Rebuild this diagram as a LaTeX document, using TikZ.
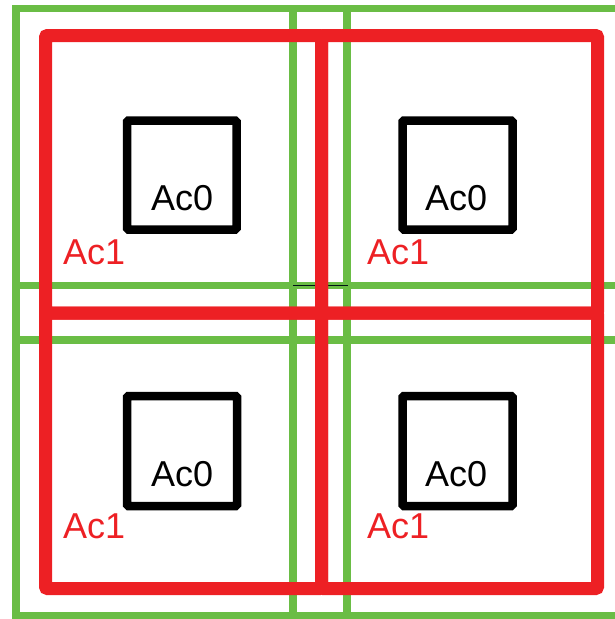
\documentclass[tikz,border=0pt]{standalone}
\usepackage{fontspec}
\setmainfont{Liberation Sans}
\definecolor{gridgreen}{RGB}{106,189,69}
\definecolor{boxred}{RGB}{237,32,36}
\begin{document}
\begin{tikzpicture}[x=1pt,y=-1pt,
  greenline/.style={draw=gridgreen,line width=7.5pt},
  redbox/.style={draw=boxred,line width=13pt,rounded corners=2pt},
  blackbox/.style={draw=black,line width=8.5pt,rounded corners=1.5pt},
  lab/.style={anchor=base west,inner sep=0pt,font=\fontsize{36}{40}\selectfont},
  ac0/.style={lab,text=black},
  ac1/.style={lab,text=boxred}]
\useasboundingbox (0,0) rectangle (615,619);
\clip (0,0) rectangle (615,619);
% green grid
\draw[greenline] (16,8.5) rectangle (622,616);
\draw[greenline] (293,8.5) -- (293,616);
\draw[greenline] (347,8.5) -- (347,616);
\draw[greenline] (16,285.5) -- (622,285.5);
\draw[greenline] (16,340) -- (622,340);
\draw[black!85!teal,line width=1.3pt] (293,285.5) -- (348,285.5);
% red boxes
\draw[redbox] (45.5,35.5) rectangle (321.5,313);
\draw[redbox] (321.5,35.5) rectangle (597.5,313);
\draw[redbox] (45.5,313) rectangle (321.5,588.5);
\draw[redbox] (321.5,313) rectangle (597.5,588.5);
% black boxes
\draw[blackbox] (127,120.5) rectangle (236.5,229.5);
\draw[blackbox] (402.5,120.5) rectangle (512.5,229.5);
\draw[blackbox] (127,396) rectangle (237,506);
\draw[blackbox] (402.5,396) rectangle (512.5,506);
% labels
\node[ac0] (a0tl) at (151,210) {Ac0};
\node[ac0] (a0tr) at (425,210) {Ac0};
\node[ac0] (a0bl) at (151,486) {Ac0};
\node[ac0] (a0br) at (425,486) {Ac0};
\node[ac1] (a1tl) at (63,264) {Ac1};
\node[ac1] (a1tr) at (367,264) {Ac1};
\node[ac1] (a1bl) at (63,538.5) {Ac1};
\node[ac1] (a1br) at (367,538.5) {Ac1};
\end{tikzpicture}
\end{document}
